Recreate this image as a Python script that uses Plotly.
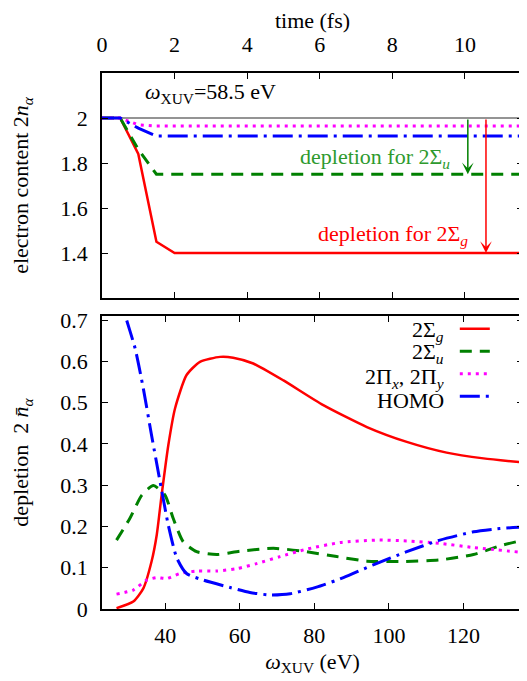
import plotly.graph_objects as go

# ---------------- data: top panel (time evolution at 58.5 eV) ----------------
time_fs = [0.0, 0.5, 1.0, 1.5, 2.0, 11.6]
n_sigma_g_t = [2.0, 2.0, 1.84, 1.45, 1.40, 1.40]
n_sigma_u_t = [2.0, 2.0, 1.86, 1.75, 1.75, 1.75]
n_pi_t = [2.0, 2.0, 1.97, 1.964, 1.964, 1.964]
n_homo_t = [2.0, 2.0, 1.955, 1.92, 1.92, 1.92]
ref_level = 2.0
arrow_time_u = 10.08
arrow_time_g = 10.58

# ---------------- data: bottom panel (depletion vs photon energy) ----------------
w_g = [26.9, 31.4, 34.1, 36.3, 37.7, 39.0, 40.8, 42.6, 45.7, 49.3, 54.7, 58.2, 63.6,
       71.7, 82.4, 94.1, 104.8, 115.5, 125.4, 136.1]
dep_g = [0.002, 0.018, 0.05, 0.115, 0.18, 0.276, 0.397, 0.486, 0.567, 0.599, 0.611,
         0.609, 0.595, 0.554, 0.494, 0.441, 0.405, 0.379, 0.365, 0.355]

w_u = [26.9, 30.5, 33.7, 36.8, 39.9, 42.1, 44.8, 48.4, 53.8, 60.0, 69.0, 77.0, 86.0,
       94.1, 103.0, 113.7, 122.7, 129.8, 136.1]
dep_u = [0.167, 0.22, 0.276, 0.299, 0.276, 0.22, 0.163, 0.139, 0.132, 0.14, 0.147,
         0.14, 0.127, 0.116, 0.115, 0.119, 0.132, 0.153, 0.167]

w_pi = [26.9, 31.4, 35.0, 37.7, 40.4, 43.9, 48.4, 53.8, 59.2, 64.5, 70.8, 77.9, 86.9,
        96.7, 104.8, 113.7, 122.7, 136.1]
dep_pi = [0.036, 0.046, 0.07, 0.076, 0.074, 0.086, 0.092, 0.092, 0.098, 0.11, 0.127,
          0.145, 0.161, 0.167, 0.165, 0.159, 0.149, 0.137]

w_homo = [26.9, 29.2, 31.9, 34.1, 36.3, 38.6, 40.8, 43.1, 45.7, 50.2, 57.4, 62.7, 68.1,
          73.5, 80.6, 87.8, 95.8, 104.8, 113.7, 122.7, 129.8, 135.2]
dep_homo = [0.78, 0.712, 0.631, 0.534, 0.421, 0.308, 0.203, 0.123, 0.086, 0.07, 0.052,
            0.04, 0.034, 0.037, 0.053, 0.076, 0.107, 0.139, 0.167, 0.187, 0.195, 0.198]

time_ticks = [0, 2, 4, 6, 8, 10]
top_y_ticks = [1.4, 1.6, 1.8, 2.0]
top_y_labels = ["1.4", "1.6", "1.8", "2"]
w_ticks = [40, 60, 80, 100, 120]
bot_y_ticks = [0, 0.1, 0.2, 0.3, 0.4, 0.5, 0.6, 0.7]
bot_y_labels = ["0", "0.1", "0.2", "0.3", "0.4", "0.5", "0.6", "0.7"]

labels = ["2Σ<sub><i>g</i></sub>", "2Σ<sub><i>u</i></sub>",
          "2Π<sub><i>x</i></sub>, 2Π<sub><i>y</i></sub>", "HOMO"]

RED = "#ff0000"
GREEN = "#008000"
MAGENTA = "#ff00ff"
BLUE = "#0000ff"
FONT = "Liberation Serif"
FS = 22
TXT = "black"

styles = [
    dict(color=RED, width=2.5, dash="solid"),
    dict(color=GREEN, width=3, dash="12px,8px"),
    dict(color=MAGENTA, width=3, dash="3px,5px"),
    dict(color=BLUE, width=3, dash="20px,6px,3px,6px"),
]

fig = go.Figure()

# top panel traces
for ys, st in zip([n_sigma_g_t, n_sigma_u_t, n_pi_t, n_homo_t], styles):
    fig.add_trace(go.Scatter(x=time_fs, y=ys, mode="lines", line=st,
                             xaxis="x", yaxis="y", showlegend=False))

# bottom panel traces
for xs, ys, st in zip([w_g, w_u, w_pi, w_homo], [dep_g, dep_u, dep_pi, dep_homo], styles):
    fig.add_trace(go.Scatter(x=xs, y=ys, mode="lines", line=dict(st, shape="spline", smoothing=0.6),
                             xaxis="x2", yaxis="y2", showlegend=True, name=" "))

# reference line at full occupation
fig.add_shape(type="line", xref="x domain", yref="y", x0=0, x1=1, y0=ref_level, y1=ref_level,
              line=dict(color="#707070", width=1.5), layer="below")

top_dom = [0.5802, 1.0]
bot_dom = [0.0, 0.5466]

axis_common = dict(showline=True, linecolor="black", linewidth=1.5, mirror="ticks",
                   ticks="inside", ticklen=6, tickwidth=1, tickcolor="black",
                   showgrid=False, zeroline=False, automargin=False,
                   tickfont=dict(family=FONT, size=FS, color=TXT))

fig.update_layout(
    width=519, height=673,
    margin=dict(l=94, r=4, t=65, b=72),
    plot_bgcolor="white", paper_bgcolor="white",
    font=dict(family=FONT, size=FS, color=TXT),
    xaxis=dict(axis_common, domain=[0, 1], anchor="y", side="top", range=[0, 11.6],
               tickvals=time_ticks, ticklabelstandoff=10,
               title=dict(text="time (fs)", standoff=12, font=dict(family=FONT, size=FS, color=TXT))),
    yaxis=dict(axis_common, domain=top_dom, anchor="x", range=[1.2, 2.2],
               tickvals=top_y_ticks, ticktext=top_y_labels, ticklabelstandoff=8,
               title=dict(text="electron content 2<i>n</i><sub><i>α</i></sub>", standoff=27,
                          font=dict(family=FONT, size=FS, color=TXT))),
    xaxis2=dict(axis_common, domain=[0, 1], anchor="y2", range=[23, 136],
                tickvals=w_ticks, ticklabelstandoff=6,
                title=dict(text="<i>ω</i><sub>XUV</sub> (eV)", standoff=6,
                           font=dict(family=FONT, size=FS, color=TXT))),
    yaxis2=dict(axis_common, domain=bot_dom, anchor="x2", range=[0, 0.71],
                tickvals=bot_y_ticks, ticktext=bot_y_labels, ticklabelstandoff=8,
                title=dict(text="depletion  2 <i>n̄</i><sub><i>α</i></sub>", standoff=27,
                           font=dict(family=FONT, size=FS, color=TXT))),
    legend=dict(x=0.838, y=0.553, xanchor="left", yanchor="top",
                bgcolor="rgba(0,0,0,0)", font=dict(size=15), itemwidth=30,
                tracegroupgap=0),
    showlegend=True,
)

# legend texts (right aligned, gnuplot style)
legend_rows = [0.949, 0.874, 0.788, 0.710]
for lab, yy in zip(labels, legend_rows):
    fig.add_annotation(xref="x2 domain", yref="y2 domain", x=0.817, y=yy, text=lab,
                       showarrow=False, xanchor="right", yanchor="middle",
                       font=dict(family=FONT, size=FS, color=TXT))

# annotations in top panel
fig.add_annotation(xref="x", yref="y", x=1.13, y=2.11, text="<i>ω</i><sub>XUV</sub>=58.5 eV",
                   showarrow=False, xanchor="left", yanchor="middle",
                   font=dict(family=FONT, size=FS, color=TXT))
fig.add_annotation(xref="x", yref="y", x=arrow_time_u - 0.44, y=1.822,
                   text="depletion for 2Σ<sub><i>u</i></sub>", showarrow=False,
                   xanchor="right", yanchor="middle", font=dict(family=FONT, size=FS, color="#2e9a2e"))
fig.add_annotation(xref="x", yref="y", x=arrow_time_g - 0.44, y=1.48,
                   text="depletion for 2Σ<sub><i>g</i></sub>", showarrow=False,
                   xanchor="right", yanchor="middle", font=dict(family=FONT, size=FS, color=RED))

# depletion arrows from full occupation to final occupation
fig.add_annotation(xref="x", yref="y", axref="x", ayref="y",
                   x=arrow_time_u, y=n_sigma_u_t[-1], ax=arrow_time_u, ay=ref_level,
                   text="", showarrow=True, arrowhead=3, arrowsize=1.3, arrowwidth=1.5,
                   arrowcolor=GREEN)
fig.add_annotation(xref="x", yref="y", axref="x", ayref="y",
                   x=arrow_time_g, y=n_sigma_g_t[-1], ax=arrow_time_g, ay=ref_level,
                   text="", showarrow=True, arrowhead=3, arrowsize=1.3, arrowwidth=1.5,
                   arrowcolor=RED)

fig.write_html("out.html")
